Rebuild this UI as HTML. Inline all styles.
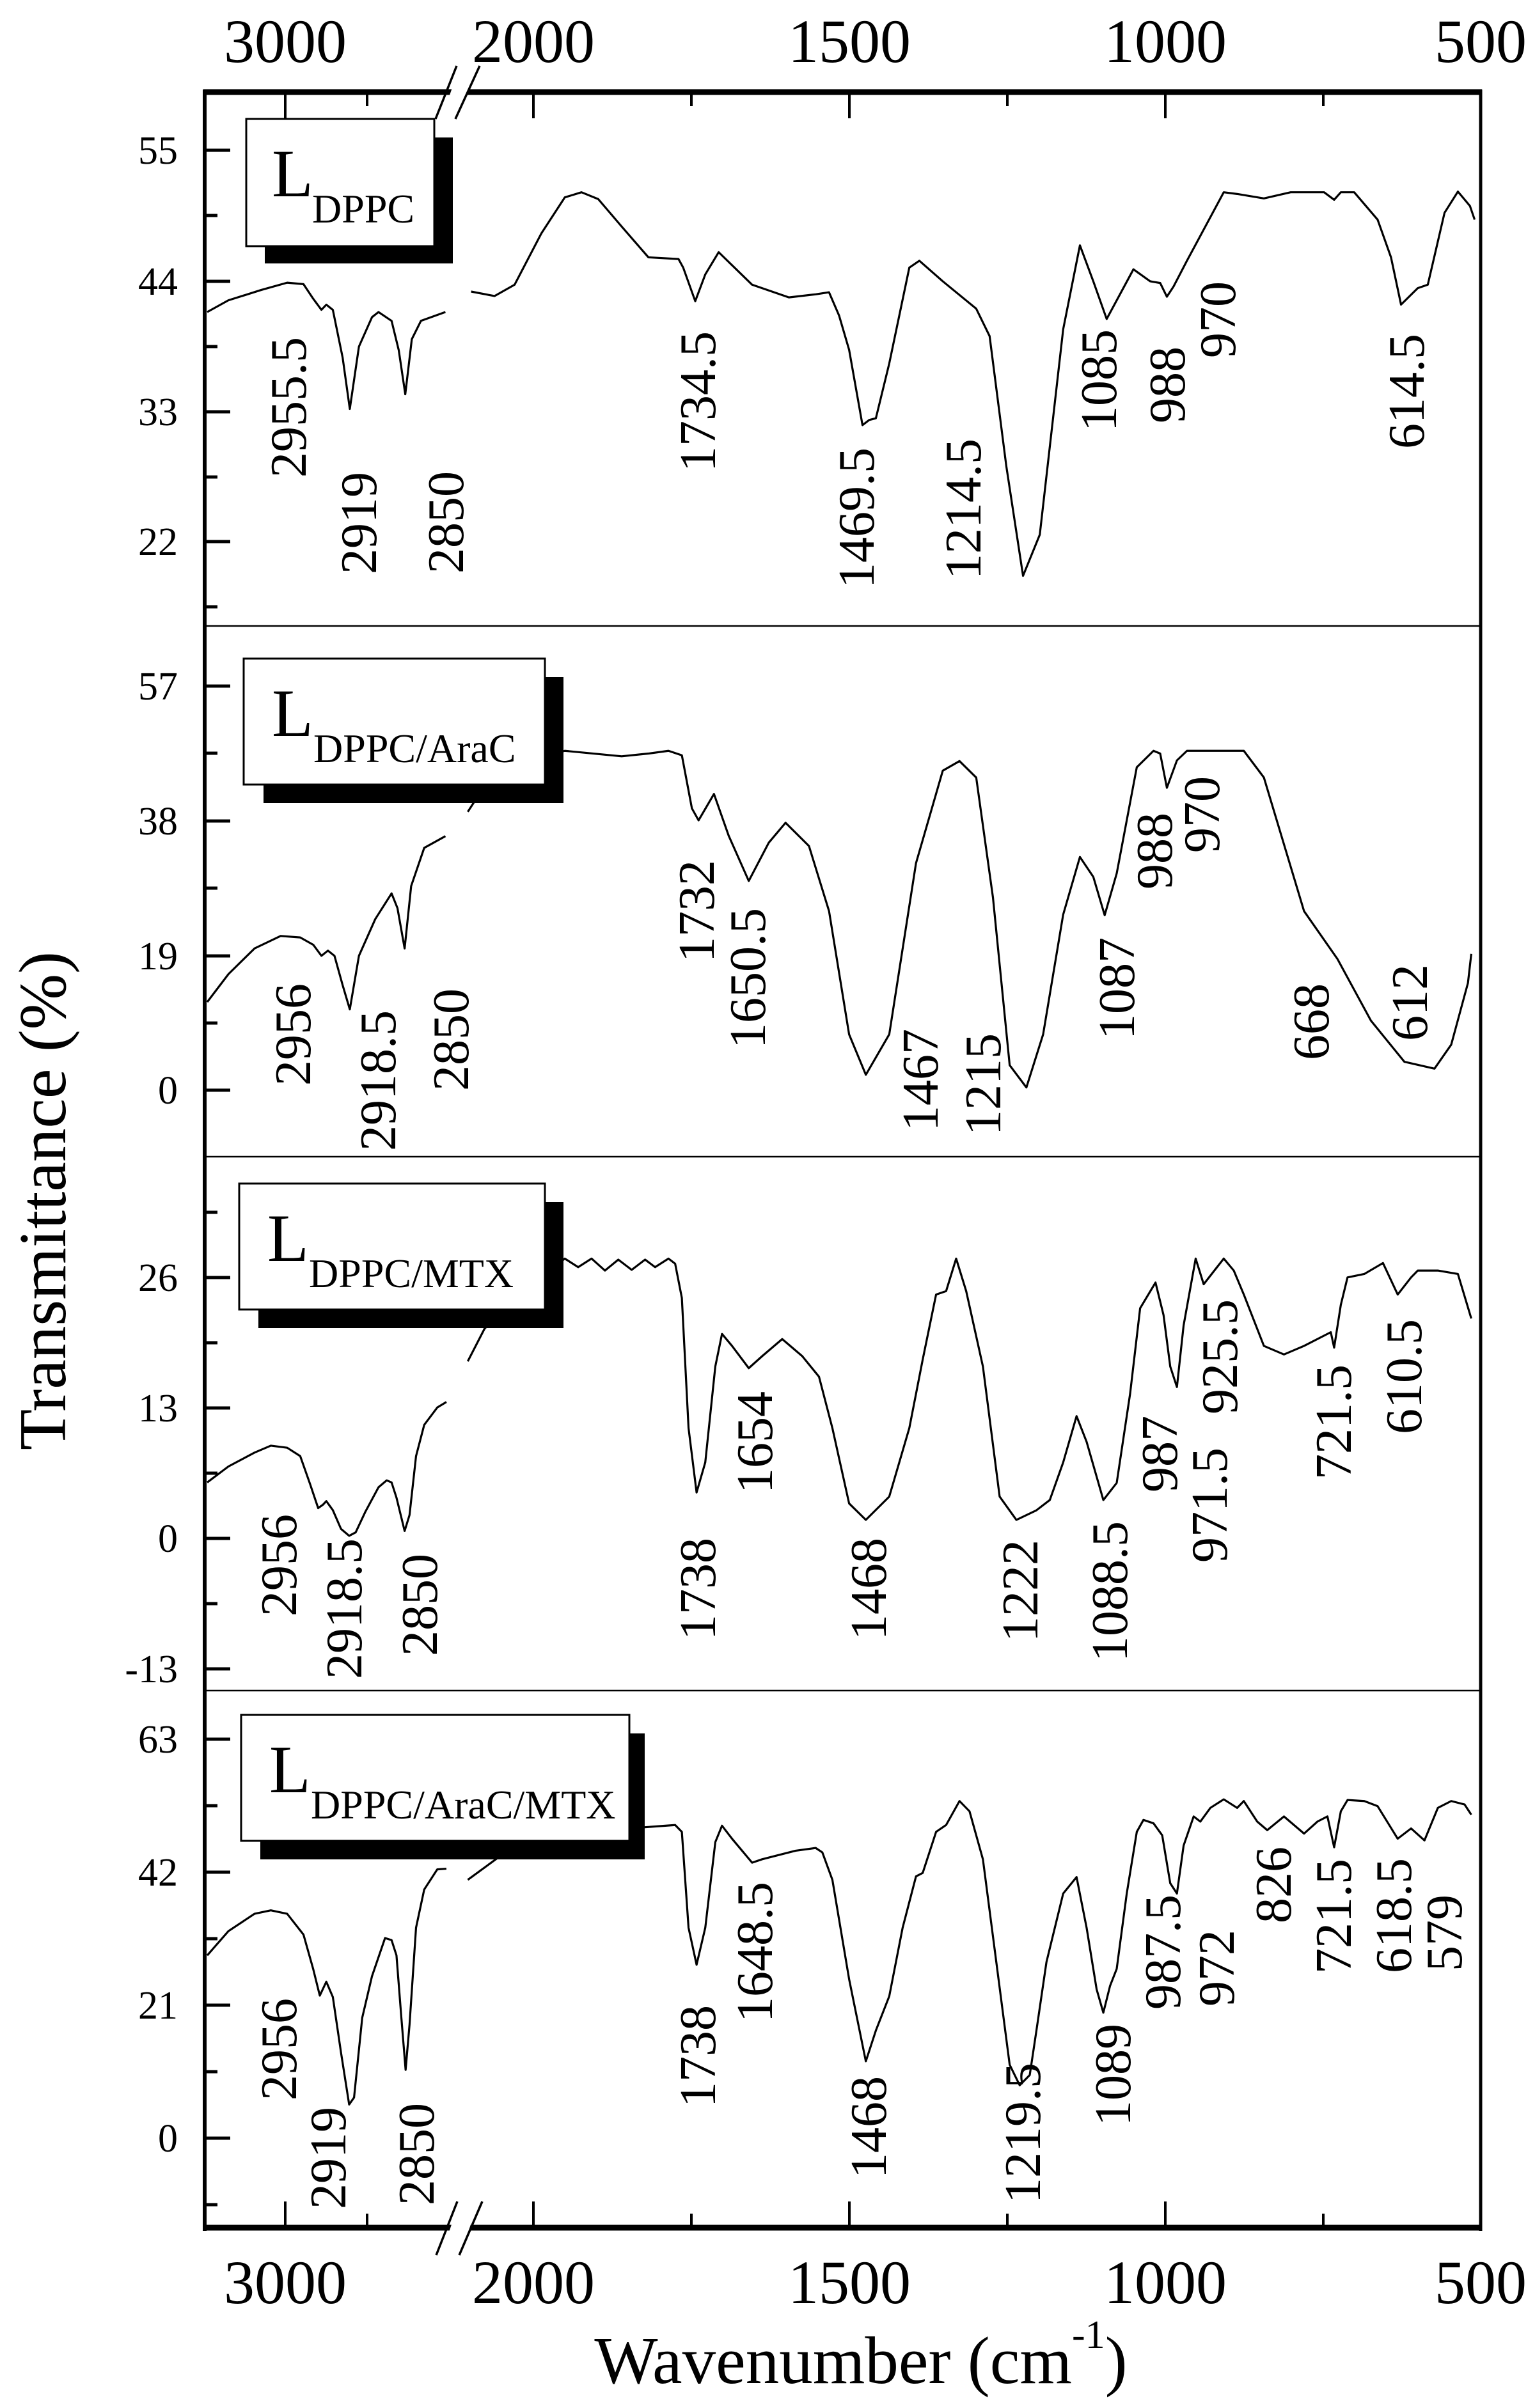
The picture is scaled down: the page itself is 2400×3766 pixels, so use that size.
<!DOCTYPE html>
<html><head><meta charset="utf-8"><style>
html,body{margin:0;padding:0;background:#fff;}
svg{display:block;}
text{font-family:"Liberation Serif",serif;fill:#000;}
.c{fill:none;stroke:#000;stroke-width:3.2;vector-effect:non-scaling-stroke;stroke-linejoin:round;}
.pl{font-size:80px;}
.yt{font-size:62px;text-anchor:end;}
.xt{font-size:96px;text-anchor:middle;}
</style></head><body>
<svg width="2400" height="3766" viewBox="0 0 2400 3766" xmlns="http://www.w3.org/2000/svg">
<rect width="2400" height="3766" fill="#fff"/>

<!-- curves right segments -->
<g transform="translate(700,140) scale(1.046,0.5356)">
<path class="c" d="M35,590 L70,603 100,570 140,420 175,315 200,300 225,320 260,400 300,490 345,495 352,520 370,618 385,540 405,475 455,570 510,607 550,598 570,592 585,660 600,760 620,980 630,965 640,960 660,800 690,520 705,500 740,560 790,640 810,720 835,1100 860,1420 885,1300 920,700 945,455 965,560 985,670 1025,525 1050,560 1065,565 1075,605 1085,575 1105,500 1160,300 1180,305 1220,318 1260,300 1310,300 1325,322 1335,300 1355,300 1390,380 1410,490 1425,628 1450,580 1465,570 1490,360 1510,298 1528,340 1535,380"/>
</g>
<g transform="translate(700,975) scale(1.046,0.5356)">
<path class="c" d="M30,550 L60,460 120,400 175,372 260,388 300,380 330,372 350,385 365,540 375,575 398,498 420,620 450,752 480,640 505,582 540,650 570,840 600,1200 625,1318 660,1200 700,700 740,430 765,402 790,450 815,800 840,1290 865,1355 890,1200 920,850 945,682 965,740 982,852 1000,730 1030,420 1055,372 1065,380 1075,480 1090,400 1105,372 1190,372 1220,450 1280,840 1330,980 1380,1160 1430,1280 1475,1300 1500,1230 1525,1050 1530,965"/>
</g>
<g transform="translate(700,1805) scale(1.046,0.5356)">
<path class="c" d="M30,605 L55,510 100,420 175,305 195,330 215,305 235,340 255,308 275,338 295,308 310,330 330,305 340,320 350,420 360,800 372,988 385,900 400,620 410,525 425,560 450,625 470,590 500,540 530,590 555,650 575,800 600,1020 625,1068 660,1000 690,800 710,600 730,410 745,400 760,305 775,400 800,620 825,1000 850,1068 880,1040 900,1010 920,900 940,765 955,840 980,1010 1000,960 1020,700 1035,450 1058,375 1070,470 1080,620 1090,680 1100,500 1118,305 1130,380 1160,305 1175,340 1190,410 1220,560 1250,585 1280,560 1320,520 1325,565 1335,440 1345,360 1370,350 1398,318 1420,410 1440,360 1450,340 1480,340 1510,350 1530,480"/>
</g>
<g transform="translate(700,2640) scale(1.046,0.5356)">
<path class="c" d="M30,560 L100,460 200,420 340,400 350,420 360,700 372,808 385,700 400,450 410,402 425,440 455,510 470,500 490,490 520,475 550,467 560,480 575,560 600,850 625,1090 640,1000 660,900 680,700 700,550 710,540 730,420 745,400 765,330 780,360 800,500 820,800 840,1100 855,1160 870,1130 880,1000 895,800 920,600 940,552 955,700 970,880 980,948 990,870 1000,820 1015,600 1030,420 1040,385 1055,395 1068,430 1080,570 1090,600 1100,460 1115,375 1125,390 1140,350 1160,325 1180,350 1190,330 1210,390 1225,415 1250,375 1280,425 1300,390 1315,375 1325,465 1335,360 1345,327 1370,330 1390,345 1420,440 1440,410 1460,445 1480,350 1500,330 1520,340 1530,370"/>
</g>

<!-- left segments -->
<g transform="translate(0,100) scale(0.5102,1.148)">
<path class="c" d="M635,338 L700,322 800,308 880,298 930,300 960,320 985,335 1000,328 1020,335 1050,400 1072,470 1100,385 1140,345 1160,338 1200,350 1222,390 1242,450 1262,375 1290,350 1365,338"/>
<path class="c" d="M635,1278 L700,1240 780,1205 860,1188 920,1190 960,1200 985,1215 1005,1208 1025,1215 1050,1255 1072,1288 1100,1215 1150,1165 1200,1130 1218,1150 1240,1205 1260,1120 1300,1068 1365,1052"/>
</g>
<g transform="translate(0,1800) scale(0.5102,1.0846)">
<path class="c" d="M635,478 L700,455 780,435 830,425 880,428 920,440 950,480 975,515 990,510 1000,505 1020,518 1045,545 1070,555 1090,550 1120,520 1160,485 1185,475 1200,478 1215,500 1240,548 1255,525 1275,440 1300,395 1340,370 1368,362"/>
<path class="c" d="M635,1160 L700,1125 780,1100 830,1095 880,1100 930,1130 960,1180 980,1218 1000,1198 1020,1220 1045,1300 1070,1375 1085,1365 1110,1250 1140,1190 1180,1135 1200,1138 1215,1160 1230,1250 1243,1325 1255,1260 1275,1120 1300,1065 1340,1036 1368,1035"/>
</g>

<!-- legends -->
<g>
<rect x="414" y="215" width="294" height="197" fill="#000"/>
<rect x="385" y="186" width="294" height="199" fill="#fff" stroke="#000" stroke-width="3"/>
<text x="425" y="307" font-size="106">L</text><text x="488" y="348" font-size="64">DPPC</text>

<rect x="412" y="1059" width="469" height="197" fill="#000"/>
<rect x="381" y="1030" width="471" height="197" fill="#fff" stroke="#000" stroke-width="3"/>
<text x="425" y="1151" font-size="106">L</text><text x="490" y="1192" font-size="64">DPPC/AraC</text>

<rect x="404" y="1880" width="477" height="197" fill="#000"/>
<rect x="374" y="1851" width="478" height="197" fill="#fff" stroke="#000" stroke-width="3"/>
<text x="418" y="1972" font-size="106">L</text><text x="483" y="2013" font-size="64">DPPC/MTX</text>

<rect x="407" y="2711" width="601" height="197" fill="#000"/>
<rect x="377" y="2682" width="607" height="197" fill="#fff" stroke="#000" stroke-width="3"/>
<text x="421" y="2803" font-size="106">L</text><text x="486" y="2844" font-size="64">DPPC/AraC/MTX</text>
</g>

<!-- frame -->
<g stroke="#000" fill="none">
<line x1="318" y1="144" x2="2317" y2="144" stroke-width="9"/>
<line x1="318" y1="3484" x2="2317" y2="3484" stroke-width="9"/>
<line x1="320" y1="140" x2="320" y2="3489" stroke-width="6"/>
<line x1="2315" y1="140" x2="2315" y2="3489" stroke-width="5"/>
<line x1="318" y1="979" x2="2317" y2="979" stroke-width="2.5"/>
<line x1="318" y1="1809" x2="2317" y2="1809" stroke-width="2.5"/>
<line x1="318" y1="2644" x2="2317" y2="2644" stroke-width="2.5"/>
<!-- top/bottom ticks -->
<g stroke-width="4">
<path d="M446,144V185 M834,144V185 M1328,144V185 M1822,144V185 M574,144V166 M1081,144V166 M1575,144V166 M2069,144V166"/>
<path d="M446,3484V3443 M834,3484V3443 M1328,3484V3443 M1822,3484V3443 M574,3484V3462 M1081,3484V3462 M1575,3484V3462 M2069,3484V3462"/>
</g>
<!-- y ticks -->
<g stroke-width="5">
<path d="M320,235H360 M320,440H360 M320,644H360 M320,847H360 M320,337H340 M320,542H340 M320,746H340 M320,949H340"/>
<path d="M320,1073H360 M320,1284H360 M320,1495H360 M320,1705H360 M320,1178H340 M320,1389H340 M320,1600H340"/>
<path d="M320,1998H360 M320,2202H360 M320,2406H360 M320,2610H360 M320,1896H340 M320,2100H340 M320,2304H340 M320,2508H340"/>
<path d="M320,2720H360 M320,2928H360 M320,3136H360 M320,3344H360 M320,2824H340 M320,3032H340 M320,3240H340 M320,3448H340"/>
</g>
</g>
<!-- breaks -->
<polygon points="690,186 716,186 744,106 718,106" fill="#fff"/>
<polygon points="690,3527 720,3527 748,3443 718,3443" fill="#fff"/>
<g stroke="#000" stroke-width="3.5">
<line x1="681" y1="186" x2="714" y2="103"/><line x1="712" y1="186" x2="750" y2="103"/>
<line x1="682" y1="3527" x2="715" y2="3443"/><line x1="718" y1="3527" x2="754" y2="3443"/>
</g>

<!-- y tick labels -->
<g class="yt">
<text x="278" y="256">55</text><text x="278" y="461">44</text><text x="278" y="665">33</text><text x="278" y="868">22</text>
<text x="278" y="1094">57</text><text x="278" y="1305">38</text><text x="278" y="1516">19</text><text x="278" y="1726">0</text>
<text x="278" y="2019">26</text><text x="278" y="2223">13</text><text x="278" y="2427">0</text><text x="278" y="2631">-13</text>
<text x="278" y="2741">63</text><text x="278" y="2949">42</text><text x="278" y="3157">21</text><text x="278" y="3365">0</text>
</g>
<!-- x tick labels -->
<g class="xt">
<text x="446" y="97">3000</text><text x="834" y="97">2000</text><text x="1328" y="97">1500</text><text x="1822" y="97">1000</text><text x="2315" y="97">500</text>
<text x="446" y="3602">3000</text><text x="834" y="3602">2000</text><text x="1328" y="3602">1500</text><text x="1822" y="3602">1000</text><text x="2315" y="3602">500</text>
</g>
<text x="1346" y="3727" font-size="105" text-anchor="middle">Wavenumber (cm<tspan font-size="62" dy="-55">-1</tspan><tspan dy="55">)</tspan></text>
<text transform="translate(102,1878) rotate(-90)" font-size="105" text-anchor="middle" textLength="780" lengthAdjust="spacingAndGlyphs">Transmittance (%)</text>

<!-- peak labels -->
<g class="pl" text-anchor="middle" dominant-baseline="central">
<text transform="translate(452,637) rotate(-90)">2955.5</text>
<text transform="translate(562,818) rotate(-90)">2919</text>
<text transform="translate(698,817) rotate(-90)">2850</text>
<text transform="translate(1092,628) rotate(-90)">1734.5</text>
<text transform="translate(1340,810) rotate(-90)">1469.5</text>
<text transform="translate(1507,796) rotate(-90)">1214.5</text>
<text transform="translate(1719,595) rotate(-90)">1085</text>
<text transform="translate(1826,602) rotate(-90)">988</text>
<text transform="translate(1905,500) rotate(-90)">970</text>
<text transform="translate(2200,612) rotate(-90)">614.5</text>

<text transform="translate(459,1618) rotate(-90)">2956</text>
<text transform="translate(592,1690) rotate(-90)">2918.5</text>
<text transform="translate(706,1626) rotate(-90)">2850</text>
<text transform="translate(1090,1425) rotate(-90)">1732</text>
<text transform="translate(1170,1530) rotate(-90)">1650.5</text>
<text transform="translate(1440,1689) rotate(-90)">1467</text>
<text transform="translate(1538,1696) rotate(-90)">1215</text>
<text transform="translate(1747,1546) rotate(-90)">1087</text>
<text transform="translate(1806,1331) rotate(-90)">988</text>
<text transform="translate(1880,1274) rotate(-90)">970</text>
<text transform="translate(2051,1598) rotate(-90)">668</text>
<text transform="translate(2205,1568) rotate(-90)">612</text>

<text transform="translate(437,2448) rotate(-90)">2956</text>
<text transform="translate(539,2516) rotate(-90)">2918.5</text>
<text transform="translate(657,2510) rotate(-90)">2850</text>
<text transform="translate(1092,2485) rotate(-90)">1738</text>
<text transform="translate(1181,2256) rotate(-90)">1654</text>
<text transform="translate(1359,2485) rotate(-90)">1468</text>
<text transform="translate(1596,2488) rotate(-90)">1222</text>
<text transform="translate(1736,2489) rotate(-90)">1088.5</text>
<text transform="translate(1814,2274) rotate(-90)">987</text>
<text transform="translate(1892,2354) rotate(-90)">971.5</text>
<text transform="translate(1908,2122) rotate(-90)">925.5</text>
<text transform="translate(2086,2224) rotate(-90)">721.5</text>
<text transform="translate(2196,2153) rotate(-90)">610.5</text>

<text transform="translate(437,3205) rotate(-90)">2956</text>
<text transform="translate(514,3375) rotate(-90)">2919</text>
<text transform="translate(652,3369) rotate(-90)">2850</text>
<text transform="translate(1092,3216) rotate(-90)">1738</text>
<text transform="translate(1181,3053) rotate(-90)">1648.5</text>
<text transform="translate(1359,3327) rotate(-90)">1468</text>
<text transform="translate(1600,3336) rotate(-90)">1219.5</text>
<text transform="translate(1741,3245) rotate(-90)">1089</text>
<text transform="translate(1819,3053) rotate(-90)">987.5</text>
<text transform="translate(1903,3078) rotate(-90)">972</text>
<text transform="translate(1992,2948) rotate(-90)">826</text>
<text transform="translate(2086,2997) rotate(-90)">721.5</text>
<text transform="translate(2180,2996) rotate(-90)">618.5</text>
<text transform="translate(2259,3023) rotate(-90)">579</text>
</g>
</svg>
</body></html>
